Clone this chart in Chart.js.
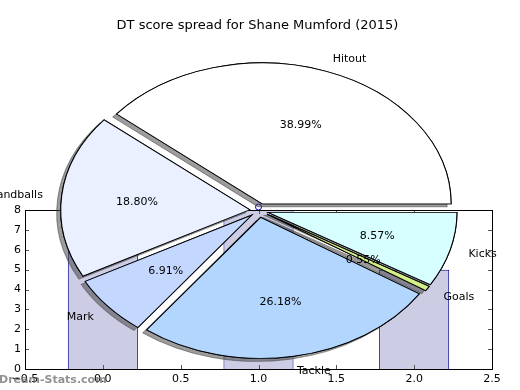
<!DOCTYPE html>
<html>
<head>
<meta charset="utf-8">
<script src="https://cdn.jsdelivr.net/npm/chart.js@4"></script>
<style>
  body{margin:0;background:#fff;}
  #wrap{position:relative;width:520px;height:390px;}
  #wrap canvas{position:absolute;left:0;top:0;}
</style>
</head>
<body>
<div id="wrap">
  <canvas id="bars" width="520" height="390"></canvas>
  <canvas id="pie" width="520" height="390"></canvas>
</div>
<script>
// ====================== DATA ======================
const sliceLabels = ['Hitout','Handballs','Mark','Tackle','Goals','Kicks'];
const slicePercents = [38.99, 18.80, 6.91, 26.18, 0.55, 8.57];
const sliceColors = ['#ffffff','#eaf0ff','#c4d7ff','#b3d6ff','#d4ee88','#d8ffff'];

const barX = [0, 1, 2];
const barHeights = [7, 8, 5];
const markerX = [1];
const markerY = [8.15];

const xTickMin = -0.5, xTickMax = 2.5, xTickStep = 0.5;
const yTickMin = 0, yTickMax = 8, yTickStep = 1;

const FONT = 'DejaVu Sans';
const TITLE = 'DT score spread for Shane Mumford (2015)';

// pie look (matplotlib-ish: ellipse, exploded, shadow)
const PIE_R = 141;      // vertical radius
const PIE_SX = 1.34;    // horizontal stretch -> ellipse
const EXPLODE = 7;      // px along slice middle
Chart.defaults.font.family = FONT;

// ====================== BAR CHART (axes underneath) ======================
const axesDeco = {
  id:'axesDeco',
  afterDraw(chart){
    const {ctx, chartArea:a, scales} = chart;
    ctx.save();
    // inward ticks on all four sides
    ctx.strokeStyle = '#555'; ctx.lineWidth = 1;
    ctx.beginPath();
    for(let v = xTickMin; v <= xTickMax + 1e-9; v += xTickStep){
      const px = Math.round(scales.x.getPixelForValue(v)) + 0.5;
      ctx.moveTo(px, a.bottom); ctx.lineTo(px, a.bottom - 4);
      ctx.moveTo(px, a.top); ctx.lineTo(px, a.top + 4);
    }
    for(let v = yTickMin; v <= yTickMax; v += yTickStep){
      const py = Math.round(scales.y.getPixelForValue(v)) + 0.5;
      ctx.moveTo(a.left, py); ctx.lineTo(a.left + 4, py);
      ctx.moveTo(a.right, py); ctx.lineTo(a.right - 4, py);
    }
    ctx.stroke();
    // frame
    ctx.strokeStyle = '#000';
    ctx.strokeRect(Math.round(a.left)+0.5, Math.round(a.top)+0.5, Math.round(a.width), Math.round(a.height));
    // title
    ctx.fillStyle = '#000';
    ctx.font = `13px "${FONT}"`;
    ctx.textAlign = 'center'; ctx.textBaseline = 'middle';
    ctx.fillText(TITLE, (a.left + a.right)/2 - 1, 26);
    ctx.restore();
  }
};

new Chart(document.getElementById('bars'), {
  type:'bar',
  data:{
    datasets:[
      { data: barX.map((x,i)=>({x, y: barHeights[i]})), backgroundColor:'#ccccE4', borderColor:'#00008b',
        borderWidth:1, barPercentage:0.9, categoryPercentage:1 },
      { type:'scatter', data: markerX.map((x,i)=>({x, y: markerY[i]})), pointRadius:3, pointBorderWidth:1,
        pointBorderColor:'#0000cc', pointBackgroundColor:'rgba(255,255,255,0)', clip:false }
    ]
  },
  options:{
    responsive:false, animation:false, devicePixelRatio:1,
    layout:{ padding:{ top:210, right:28, left:0, bottom:0 } },
    plugins:{ legend:{display:false}, tooltip:{enabled:false} },
    scales:{
      x:{ type:'linear', min:xTickMin, max:xTickMax, offset:false,
          grid:{display:false, drawTicks:false, offset:false}, border:{display:false},
          ticks:{ stepSize:xTickStep, padding:4, color:'#000', font:{size:11},
                  callback:v=>v.toFixed(1).replace('-','\u2212') },
          afterFit:s=>{ s.height = 21; } },
      y:{ min:yTickMin, max:yTickMax,
          grid:{display:false, drawTicks:false}, border:{display:false},
          ticks:{ stepSize:yTickStep, padding:4, color:'#000', font:{size:11} },
          afterFit:s=>{ s.width = 25; } }
    }
  },
  plugins:[axesDeco]
});

// ====================== PIE (on top, stretched into an ellipse) ======================
// chart.js goes clockwise from 3 o'clock, matplotlib counter-clockwise -> reverse order
const pieLabels = sliceLabels.slice().reverse();
const pieValues = slicePercents.slice().reverse();
const pieColors = sliceColors.slice().reverse();

function drawExploded(ctx, arcs){
  arcs.forEach(a=>{
    const mid = (a.startAngle + a.endAngle)/2;
    ctx.save();
    ctx.translate(Math.cos(mid)*EXPLODE, Math.sin(mid)*EXPLODE);
    a.draw(ctx);
    ctx.restore();
  });
}

const ellipse = {
  id:'ellipse',
  beforeDatasetsDraw(chart){
    const ctx = chart.ctx;
    const arcs = chart.getDatasetMeta(0).data;
    const cx = arcs[0].x;
    ctx.save();
    ctx.translate(cx, 0); ctx.scale(PIE_SX, 1); ctx.translate(-cx, 0);
    // shadows first, so they all sit under every slice
    ctx.save();
    ctx.shadowColor = 'rgba(60,60,60,0.5)';
    ctx.shadowOffsetX = -4; ctx.shadowOffsetY = 3; ctx.shadowBlur = 0;
    drawExploded(ctx, arcs);
    ctx.restore();
    drawExploded(ctx, arcs);
    ctx.restore();
    return false; // slices already drawn
  },
  afterDraw(chart){
    const ctx = chart.ctx;
    ctx.save();
    ctx.fillStyle = '#000';
    ctx.font = `11px "${FONT}"`;
    ctx.textBaseline = 'middle';
    chart.getDatasetMeta(0).data.forEach((a,i)=>{
      const mid = (a.startAngle + a.endAngle)/2;
      const c = Math.cos(mid), s = Math.sin(mid);
      const ox = a.x + PIE_SX*c*EXPLODE, oy = a.y + s*EXPLODE + 1;
      ctx.textAlign = c > 0 ? 'left' : 'right';
      ctx.fillText(pieLabels[i], ox + 1.1*PIE_R*PIE_SX*c, oy + 1.1*PIE_R*s);
      ctx.textAlign = 'center';
      ctx.fillText(pieValues[i].toFixed(2)+'%', ox + 0.6*PIE_R*PIE_SX*c, oy + 0.6*PIE_R*s);
    });
    // watermark
    ctx.fillStyle = 'rgba(110,110,110,0.75)';
    ctx.font = `bold 11px "${FONT}"`;
    ctx.textAlign = 'left';
    ctx.fillText('Dream-Stats.com', -1, 380);
    ctx.restore();
  }
};

new Chart(document.getElementById('pie'), {
  type:'pie',
  data:{
    labels: pieLabels,
    datasets:[{ data: pieValues, backgroundColor: pieColors, borderColor:'#000', borderWidth:0.8,
                borderJoinStyle:'miter' }]
  },
  options:{
    responsive:false, animation:false, devicePixelRatio:1,
    rotation:90, radius:PIE_R,
    layout:{ padding:{ top:31, right:2, left:0, bottom:0 } },
    plugins:{ legend:{display:false}, tooltip:{enabled:false} },
    events:[]
  },
  plugins:[ellipse]
});
</script>
</body>
</html>
